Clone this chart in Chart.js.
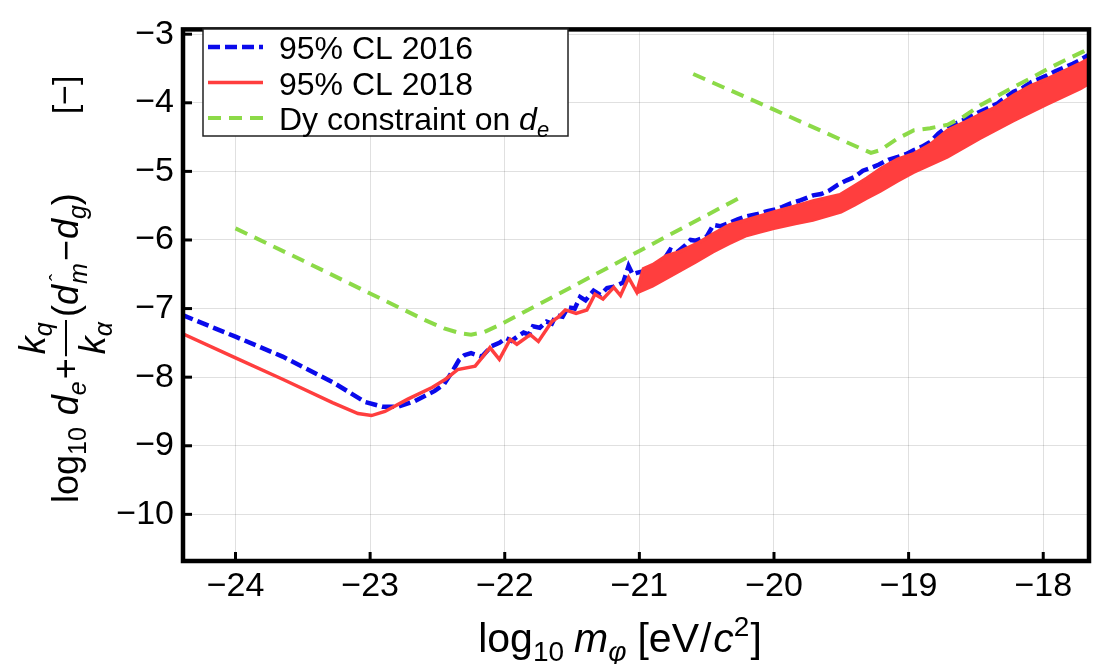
<!DOCTYPE html>
<html>
<head>
<meta charset="utf-8">
<script src="https://cdn.jsdelivr.net/npm/chart.js@4/dist/chart.umd.min.js"></script>
<style>
  html, body { margin: 0; padding: 0; background: #fff; }
  #wrap { width: 1100px; height: 664px; }
</style>
</head>
<body>
<div id="wrap"><canvas id="myChart" width="1100" height="664"></canvas></div>
<script>
const xTickValues = [-24, -23, -22, -21, -20, -19, -18];
const yTickValues = [-10, -9, -8, -7, -6, -5, -4, -3];

// 95% CL 2016 (blue dashed)
const blueX = [-24.40, -24.00, -23.65, -23.28, -23.04, -22.91, -22.79, -22.67, -22.52, -22.45, -22.40, -22.34, -22.30, -22.25, -22.17,
  -22.10, -22.04, -21.99, -21.95, -21.90, -21.86, -21.82, -21.79, -21.74, -21.69, -21.65, -21.62, -21.57, -21.53, -21.48,
  -21.44, -21.40, -21.34, -21.29, -21.24, -21.19, -21.12, -21.08, -21.05, -21.02, -20.96, -20.90, -20.84, -20.77, -20.72,
  -20.66, -20.62, -20.58, -20.50, -20.45, -20.40, -20.33, -20.27, -20.21, -20.12, -20.05, -20.00, -19.94, -19.88, -19.80,
  -19.71, -19.65, -19.59, -19.53, -19.46, -19.40, -19.34, -19.28, -19.22, -19.15, -19.08, -19.02, -18.96, -18.90, -18.84,
  -18.78, -18.71, -18.65, -18.59, -18.53, -18.47, -18.40, -18.34, -18.28, -18.22, -18.15, -18.09, -18.03, -17.97, -17.91,
  -17.85, -17.78, -17.72, -17.66];
const blueY = [-7.09, -7.41, -7.70, -8.07, -8.36, -8.43, -8.43, -8.35, -8.20, -8.10, -7.95, -7.75, -7.68, -7.65, -7.70,
  -7.55, -7.50, -7.43, -7.47, -7.40, -7.35, -7.38, -7.26, -7.28, -7.19, -7.22, -7.10, -7.12, -6.98, -7.00,
  -6.83, -6.88, -6.74, -6.80, -6.70, -6.68, -6.62, -6.38, -6.50, -6.48, -6.45, -6.40, -6.35, -6.14, -6.18,
  -6.08, -6.00, -6.01, -5.95, -5.78, -5.80, -5.75, -5.70, -5.66, -5.62, -5.58, -5.56, -5.52, -5.47, -5.42,
  -5.35, -5.33, -5.28, -5.20, -5.13, -5.08, -4.99, -4.95, -4.90, -4.83, -4.79, -4.75, -4.69, -4.64, -4.57,
  -4.45, -4.34, -4.30, -4.25, -4.19, -4.13, -4.07, -4.01, -3.92, -3.84, -3.78, -3.70, -3.65, -3.60, -3.54,
  -3.49, -3.43, -3.37, -3.30];

// 95% CL 2018 (red, upper edge)
const redX = [-24.40, -24.00, -23.65, -23.28, -23.09, -22.99, -22.89, -22.72, -22.54, -22.44, -22.35, -22.22, -22.17, -22.11, -22.04,
  -21.96, -21.91, -21.81, -21.75, -21.65, -21.60, -21.55, -21.47, -21.39, -21.33, -21.27, -21.19, -21.14, -21.08, -21.02,
  -20.97, -20.90, -20.80, -20.70, -20.57, -20.45, -20.33, -20.21, -20.00, -19.85, -19.71, -19.51, -19.40, -19.31, -19.20,
  -19.08, -18.96, -18.84, -18.71, -18.59, -18.47, -18.34, -18.22, -18.09, -17.97, -17.85, -17.72, -17.66];
const redY = [-7.36, -7.72, -8.03, -8.37, -8.53, -8.56, -8.50, -8.32, -8.15, -8.03, -7.89, -7.84, -7.72, -7.57, -7.74,
  -7.45, -7.52, -7.38, -7.48, -7.19, -7.12, -7.02, -7.07, -7.02, -6.79, -6.86, -6.69, -6.81, -6.55, -6.76,
  -6.42, -6.36, -6.23, -6.17, -6.05, -5.91, -5.78, -5.71, -5.59, -5.51, -5.43, -5.34, -5.21, -5.10, -4.95,
  -4.82, -4.74, -4.61, -4.40, -4.29, -4.17, -4.05, -3.89, -3.75, -3.65, -3.54, -3.42, -3.36];

// 95% CL 2018, lower edge of the noisy band
const bandX = [-21.02, -20.90, -20.80, -20.70, -20.58, -20.45, -20.33, -20.21, -20.10, -20.00, -19.84, -19.71, -19.50, -19.40, -19.31,
  -19.21, -19.08, -18.96, -18.71, -18.47, -18.22, -17.97, -17.72, -17.65];
const bandY = [-6.78, -6.68, -6.57, -6.46, -6.33, -6.18, -6.06, -5.95, -5.89, -5.84, -5.77, -5.72, -5.60, -5.50, -5.40,
  -5.30, -5.15, -5.02, -4.80, -4.53, -4.27, -4.03, -3.80, -3.72];

// Dy constraint on d_e (green dashed), null splits the two pieces
const dyX = [-24.00, -23.50, -23.00, -22.60, -22.45, -22.33, -22.25, -22.15, -22.05, -22.00, -21.44, -21.00, -20.55, -20.23,
  -20.40,
  -20.60, -20.00, -19.50, -19.28, -19.21, -19.09, -18.96, -18.84, -18.71, -18.59, -18.47, -18.34, -18.22, -18.09, -17.97,
  -17.85, -17.70, -17.66];
const dyY = [-5.83, -6.30, -6.78, -7.16, -7.29, -7.36, -7.38, -7.34, -7.25, -7.20, -6.62, -6.16, -5.69, -5.36,
  null,
  -3.58, -4.10, -4.54, -4.73, -4.69, -4.53, -4.40, -4.37, -4.32, -4.20, -4.04, -3.90, -3.77, -3.64, -3.51,
  -3.39, -3.25, -3.21];

const BLUE = 'rgb(10, 10, 235)';
const RED = 'rgb(255, 62, 62)';
const GREEN = 'rgb(140, 218, 72)';
const FONT = '"Liberation Sans", Arial, sans-serif';

const pts = (xs, ys) => xs.map((x, i) => ({ x: x, y: ys[i] }));
const minus = v => (v < 0 ? '\u2212' + Math.abs(v) : String(v));

// draws a run of [text, font, dy, gapAfter] pieces starting at x, returns end x
function drawRun(ctx, x, y, pieces) {
    pieces.forEach(p => {
        ctx.font = p[1];
        ctx.fillText(p[0], x, y + (p[2] || 0));
        x += ctx.measureText(p[0]).width + (p[3] || 0);
    });
    return x;
}

function runWidth(ctx, pieces) {
    let w = 0;
    pieces.forEach(p => {
        ctx.font = p[1];
        w += ctx.measureText(p[0]).width + (p[3] || 0);
    });
    return w;
}

const framePlugin = {
    id: 'frame',
    afterDraw(chart) {
        const ctx = chart.ctx;
        const a = chart.chartArea;
        const xs = chart.scales.x, ys = chart.scales.y;
        ctx.save();
        ctx.strokeStyle = '#000';
        // inward ticks
        ctx.lineWidth = 3;
        xTickValues.forEach(v => {
            const px = xs.getPixelForValue(v);
            ctx.beginPath(); ctx.moveTo(px, a.bottom); ctx.lineTo(px, a.bottom - 9); ctx.stroke();
        });
        yTickValues.forEach(v => {
            const py = ys.getPixelForValue(v);
            ctx.beginPath(); ctx.moveTo(a.left, py); ctx.lineTo(a.left + 9, py); ctx.stroke();
        });
        ctx.lineWidth = 4.5;
        ctx.strokeRect(a.left, a.top, a.right - a.left, a.bottom - a.top);

        // legend inside the frame
        const items = chart.data.datasets.filter(d => d.label);
        const bx = 203, by = 29, bw = 365, bh = 107;
        ctx.fillStyle = '#fff';
        ctx.fillRect(bx, by, bw, bh);
        ctx.lineWidth = 1.5;
        ctx.strokeStyle = '#222';
        ctx.strokeRect(bx, by, bw, bh);
        ctx.textBaseline = 'alphabetic';
        ctx.textAlign = 'left';
        items.forEach((d, i) => {
            const cy = 47 + i * 35.5;
            ctx.strokeStyle = d.borderColor;
            ctx.lineWidth = d.borderWidth;
            ctx.setLineDash(d.borderDash || []);
            ctx.beginPath(); ctx.moveTo(208, cy); ctx.lineTo(263, cy); ctx.stroke();
            ctx.setLineDash([]);
            ctx.fillStyle = '#000';
            if (d.label.endsWith('d_e')) {
                const base = d.label.slice(0, -3);
                drawRun(ctx, 279, cy + 12, [
                    [base, '32px ' + FONT],
                    ['d', 'italic 32px ' + FONT],
                    ['e', 'italic 22px ' + FONT, 7]
                ]);
            } else {
                ctx.font = '32px ' + FONT;
                ctx.fillText(d.label, 279, cy + 12);
            }
        });

        // x axis title
        ctx.fillStyle = '#000';
        const xt = [
            ['log', '41px ' + FONT],
            ['10', '28px ' + FONT, 9, 10],
            ['m', 'italic 41px ' + FONT],
            ['\u03c6', 'italic 28px ' + FONT, 9, 11],
            ['[eV', '41px ' + FONT, 0, 1],
            ['/', '41px ' + FONT, 0, 2],
            ['c', 'italic 41px ' + FONT],
            ['2', '28px ' + FONT, -16, 1],
            [']', '41px ' + FONT]
        ];
        drawRun(ctx, 620 - runWidth(ctx, xt) / 2, 652, xt);

        // y axis title, rotated
        ctx.translate(78, 503);
        ctx.rotate(-Math.PI / 2);
        let x = drawRun(ctx, 0, 0, [
            ['log', '36px ' + FONT],
            ['10', '25px ' + FONT, 8, 12],
            ['d', 'italic 36px ' + FONT],
            ['e', 'italic 25px ' + FONT, 8, 2],
            ['+', '36px ' + FONT, 0, 2]
        ]);
        const num = [['k', 'italic 36px ' + FONT], ['q', 'italic 25px ' + FONT, 7]];
        const den = [['k', 'italic 36px ' + FONT], ['\u03b1', 'italic 25px ' + FONT, 7]];
        const fw = Math.max(runWidth(ctx, num), runWidth(ctx, den)) + 4;
        drawRun(ctx, x + 2, -33, num);
        drawRun(ctx, x + 2, 27, den);
        ctx.lineWidth = 2;
        ctx.strokeStyle = '#000';
        ctx.beginPath(); ctx.moveTo(x, -12); ctx.lineTo(x + fw, -12); ctx.stroke();
        x += fw + 3;
        x = drawRun(ctx, x, 0, [
            ['(', '36px ' + FONT],
            ['d', 'italic 36px ' + FONT, 0, 1]
        ]);
        ctx.font = '22px ' + FONT;
        ctx.fillText('\u02c6', x + 3, -13);
        x = drawRun(ctx, x, 0, [
            ['m', 'italic 25px ' + FONT, 9, 2],
            ['\u2212', '36px ' + FONT, 0, 1],
            ['d', 'italic 36px ' + FONT],
            ['g', 'italic 25px ' + FONT, 8],
            [')', '36px ' + FONT]
        ]);
        ctx.font = '34px ' + FONT;
        ctx.textAlign = 'center';
        ctx.fillText('[\u2212]', 408, -2);
        ctx.restore();
    }
};

const ctx = document.getElementById('myChart').getContext('2d');
const chart = new Chart(ctx, {
    type: 'line',
    data: {
        datasets: [
            {
                label: '95% CL 2016',
                data: pts(blueX, blueY),
                borderColor: BLUE,
                borderWidth: 4.5,
                borderDash: [12, 5],
                order: 3,
            },
            {
                label: '95% CL 2018',
                data: pts(redX, redY),
                borderColor: RED,
                borderWidth: 3.5,
                order: 1,
            },
            {
                label: '',
                data: pts(bandX, bandY),
                borderColor: RED,
                borderWidth: 2,
                backgroundColor: RED,
                fill: '-1',
                order: 2,
            },
            {
                label: 'Dy constraint on d_e',
                data: pts(dyX, dyY),
                borderColor: GREEN,
                borderWidth: 4,
                borderDash: [13, 8],
                spanGaps: false,
                order: 0,
            }
        ]
    },
    options: {
        responsive: false,
        animation: false,
        parsing: false,
        layout: { padding: { top: 15, right: 11, left: 0, bottom: 0 } },
        elements: {
            point: { radius: 0 },
            line: { tension: 0, fill: false }
        },
        plugins: {
            legend: { display: false },
            tooltip: { enabled: false }
        },
        scales: {
            x: {
                type: 'linear',
                min: -24.39,
                max: -17.66,
                afterBuildTicks: s => { s.ticks = xTickValues.map(v => ({ value: v })); },
                afterFit: s => { s.height = 103; },
                ticks: {
                    callback: minus,
                    font: { family: FONT, size: 34 },
                    color: '#000',
                    padding: 5,
                    maxRotation: 0,
                },
                grid: { color: 'rgba(0,0,0,0.12)', lineWidth: 1, drawTicks: false },
                border: { display: false }
            },
            y: {
                type: 'linear',
                min: -10.68,
                max: -2.93,
                afterBuildTicks: s => { s.ticks = yTickValues.map(v => ({ value: v })); },
                afterFit: s => { s.width = 183; },
                ticks: {
                    callback: minus,
                    font: { family: FONT, size: 34 },
                    color: '#000',
                    padding: 9,
                },
                grid: { color: 'rgba(0,0,0,0.12)', lineWidth: 1, drawTicks: false },
                border: { display: false }
            }
        }
    },
    plugins: [framePlugin]
});
</script>
</body>
</html>
